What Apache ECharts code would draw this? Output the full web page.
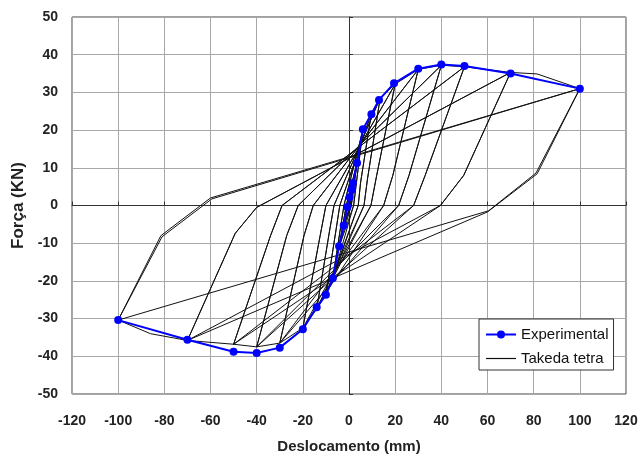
<!DOCTYPE html>
<html>
<head>
<meta charset="utf-8">
<script src="https://cdn.jsdelivr.net/npm/echarts@6/dist/echarts.min.js"></script>
<style>
  html, body { margin: 0; padding: 0; background: #fff; }
  #chart { width: 641px; height: 459px; }
</style>
</head>
<body>
<div id="chart"></div>
<script>
// ensaio experimental (picos de cada ciclo)
const expDisp = [-100, -70, -50, -40, -30, -20, -14, -10, -7, -4.3, -2.3, -0.7, 0.3, 1.2, 1.7, 3.5, 6, 9.7, 13, 19.5, 30, 40, 50, 70, 100]
const expForce = [-30.4, -35.6, -38.8, -39.1, -37.7, -32.8, -27, -23.7, -19.3, -10.8, -5.3, -0.4, 2.2, 4.2, 6, 11.3, 20.2, 24.2, 28, 32.4, 36.3, 37.4, 37, 35, 31]

// modelo Takeda tetra: caminho [deslocamento, forca], 2 ciclos por nivel
const takedaPath = [
  [0, 0], [2, 6],
  [0.5, 0], [-2.3, -5.5], [-0.6, 0], [2, 6], [0.5, 0], [-2.3, -5.5], [-0.6, 0], [2, 6],
  [3.5, 11.3], [1, 0], [-2.3, -5.5], [-4.3, -11], [-1.2, 0], [3.5, 11.3], [1, 0], [-4.3, -11], [-1.2, 0], [3.5, 11.3],
  [6, 20], [2, 0], [-4.3, -11], [-7, -19.3], [-2.2, 0], [6, 20], [2, 0], [-7, -19.3], [-2.2, 0], [6, 20],
  [9.7, 24.5], [5, 6], [4, 0], [-7, -19.3], [-10, -23.7], [-5.5, -6], [-4, 0],
  [9.7, 24.5], [5, 6], [4, 0], [-10, -23.7], [-5.5, -6], [-4, 0], [9.7, 24.5],
  [13.5, 28.5], [8, 7], [6.5, 0], [-10, -23.7], [-14, -27.5], [-8.5, -7], [-6.5, 0],
  [13.5, 28.5], [8, 7], [6.5, 0], [-14, -27.5], [-8.5, -7], [-6.5, 0], [13.5, 28.5],
  [20, 32.2], [12, 8], [9.5, 0], [-14, -27.5], [-20, -32.5], [-12.5, -8], [-10, 0],
  [20, 32.2], [12, 8], [9.5, 0], [-20, -32.5], [-12.5, -8], [-10, 0], [20, 32.2],
  [30, 36.1], [19, 8], [15, 0], [-20, -32.5], [-30, -36.5], [-19.5, -8], [-15.5, 0],
  [30, 36.1], [19, 8], [15, 0], [-30, -36.5], [-19.5, -8], [-15.5, 0], [30, 36.1],
  [40, 37.2], [26, 8], [21.5, 0], [-30, -36.5], [-40, -37.5], [-27, -8], [-22, 0],
  [40, 37.2], [26, 8], [21.5, 0], [-40, -37.5], [-27, -8], [-22, 0], [40, 37.2],
  [50, 36.8], [33, 8], [28, 0], [-40, -37.5], [-50, -36.8], [-34, -8], [-29, 0],
  [50, 36.8], [33, 8], [28, 0], [-50, -36.8], [-34, -8], [-29, 0], [50, 36.8],
  [70, 35.3], [49.7, 8], [39.6, 0], [-50, -36.8], [-70, -35.8], [-49.3, -7.4], [-40, -0.5],
  [70, 35.3], [49.7, 8], [39.6, 0], [-70, -35.8], [-49.3, -7.4], [-40, -0.5], [70, 35.3],
  [81.5, 34.9], [100, 31], [81.5, 8.4], [60, -1.7], [-70, -35.8], [-86, -34], [-100, -30.4], [-81, -8.3], [-59.4, 1.75],
  [100, 31], [81, 8.6], [60.5, -1.4], [-100, -30.4], [-81.5, -8], [-60, 2], [100, 31]
]

const xTicks = [-120, 120, 20]
const yTicks = [-50, 50, 10]

const chart = echarts.init(document.getElementById('chart'))

const fontFam = '"Liberation Sans", Arial, sans-serif'

// eixo "em zero" so para desenhar as linhas x=0 e y=0
const zeroAxis = function (t) {
  return {
    type: 'value',
    min: t[0],
    max: t[1],
    interval: t[2],
    axisLine: { show: true, onZero: true, onZeroAxisIndex: 0, lineStyle: { color: '#333', width: 1 } },
    axisTick: { show: true, length: 4, lineStyle: { color: '#333' } },
    axisLabel: { show: false },
    splitLine: { show: false }
  }
}

chart.setOption({
  animation: false,
  backgroundColor: '#fff',
  textStyle: { fontFamily: fontFam },
  grid: {
    left: 72,
    right: 15,
    top: 17,
    bottom: 65,
    outerBoundsMode: 'none',
    show: true,
    borderColor: '#444',
    borderWidth: 1
  },
  legend: {
    orient: 'vertical',
    left: 479,
    top: 319,
    padding: [8, 5, 4, 6],
    itemGap: 9,
    itemWidth: 30,
    itemHeight: 10,
    backgroundColor: '#fff',
    borderColor: '#333',
    borderWidth: 1,
    borderRadius: 0,
    textStyle: { fontSize: 15, color: '#111', fontFamily: fontFam },
    data: [
      { name: 'Experimental' },
      { name: 'Takeda tetra', icon: 'path://M0,0H30V1.2H0Z' }
    ]
  },
  xAxis: [{
    type: 'value',
    min: xTicks[0],
    max: xTicks[1],
    interval: xTicks[2],
    name: 'Deslocamento (mm)',
    nameLocation: 'middle',
    nameGap: 45,
    nameTextStyle: { fontSize: 15, fontWeight: 'bold', color: '#222' },
    axisLine: { show: false, onZero: false },
    axisTick: { show: false },
    axisLabel: { margin: 20, fontSize: 14, fontWeight: 'bold', color: '#222' },
    splitLine: { show: true, lineStyle: { color: '#a8a8a8', width: 1 } }
  }, zeroAxis(xTicks)],
  yAxis: [{
    type: 'value',
    min: yTicks[0],
    max: yTicks[1],
    interval: yTicks[2],
    name: 'Força (KN)',
    nameLocation: 'middle',
    nameGap: 36,
    nameTextStyle: { fontSize: 17, fontWeight: 'bold', color: '#222' },
    axisLine: { show: false, onZero: false },
    axisTick: { show: false },
    axisLabel: { margin: 14, fontSize: 14, fontWeight: 'bold', color: '#222' },
    splitLine: { show: true, lineStyle: { color: '#a8a8a8', width: 1 } }
  }, zeroAxis(yTicks)],
  series: [
    {
      name: 'Takeda tetra',
      type: 'line',
      xAxisIndex: 0,
      yAxisIndex: 0,
      data: takedaPath,
      symbol: 'none',
      lineStyle: { color: '#111', width: 1 },
      itemStyle: { color: '#111' },
      z: 2
    },
    {
      name: 'Experimental',
      type: 'line',
      xAxisIndex: 0,
      yAxisIndex: 0,
      data: expDisp.map(function (d, i) { return [d, expForce[i]] }),
      symbol: 'circle',
      symbolSize: 8,
      lineStyle: { color: '#0000ff', width: 2 },
      itemStyle: { color: '#0000ff' },
      z: 3
    }
  ]
})
</script>
</body>
</html>
